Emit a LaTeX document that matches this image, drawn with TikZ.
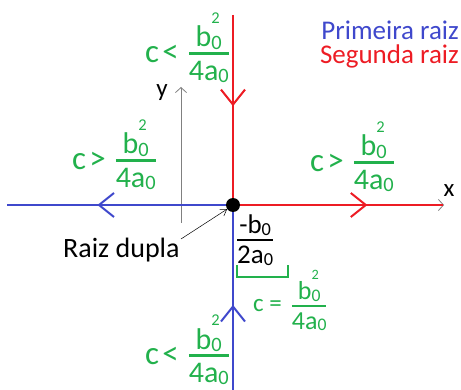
\documentclass[tikz,border=0pt]{standalone}
\usepackage{fontspec}
\setmainfont{Carlito}
\usepackage{graphicx}
\usepackage{tikz}
\usetikzlibrary{arrows.meta, decorations.markings}
\definecolor{grn}{RGB}{34,177,76}
\definecolor{blu}{RGB}{63,72,204}
\definecolor{rd}{RGB}{237,28,36}
\newcommand\lo[1]{\raisebox{-0.07em}{\scalebox{0.68}{#1}}}
\newcommand\hi[1]{\raisebox{0.78em}{\scalebox{0.55}{#1}}}
\newcommand\bsq{b\rlap{\hi{2}}\lo{0}}
\newcommand\frc[2]{{\setlength\arrayrulewidth{2.5pt}\renewcommand\arraystretch{0}%
  \begin{tabular}[t]{@{}c@{}}\rule[-0.18em]{0pt}{0.18em}#1\\\hline\rule{0pt}{0.84em}#2\end{tabular}}}
\newcommand\cfrac[2]{#1\hspace{0.3em}\raisebox{16pt}{\fontsize{30}{30}\selectfont\frc{\bsq}{4a\lo{0}}}}
\tikzset{
  glabel/.style={text=grn, font=\fontsize{33}{36}\selectfont, inner sep=0pt, anchor=base west},
  blabel/.style={font=\fontsize{28}{32}\selectfont, inner sep=0pt},
  rootline/.style={line width=2pt},
  chev/.style={postaction={decorate, decoration={markings,
      mark=at position #1 with {\arrow{Straight Barb[length=15pt, width=24pt, line width=2pt]}}}}},
  axisline/.style={gray, line width=0.8pt, -{Straight Barb[length=5pt, width=11pt]}},
}
\begin{document}
\begin{tikzpicture}[x=1pt, y=-1pt]
  \useasboundingbox (0,0) rectangle (461,390);
  \coordinate (ctr) at (233,205);
  \coordinate (redtop) at (233,15);
  \coordinate (redright) at (443,205);
  \coordinate (blueleft) at (7,205);
  \coordinate (bluebot) at (233,390);
  \coordinate (ybot) at (181,223);
  \coordinate (ytop) at (181,87);
  \coordinate (xleft) at (181,205);
  \coordinate (xright) at (444,205);

  % axes
  \draw[axisline] (ybot) -- (ytop);
  \draw[axisline] (xleft) -- (xright);
  \node[blabel, font=\fontsize{25}{28}\selectfont, anchor=base] at (162,97) (ylab) {y};
  \node[blabel, font=\fontsize{25}{28}\selectfont, anchor=base] at (449,197) (xlab) {x};

  % the two roots
  \draw[rootline, rd, chev=0.48] (redtop) -- (ctr);
  \draw[rootline, rd, chev=0.64] (ctr) -- (redright);
  \draw[rootline, blu, chev=0.60] (ctr) -- (blueleft);
  \draw[rootline, blu, chev=0.46] (bluebot) -- (ctr);
  \node[circle, fill=black, minimum size=14pt, inner sep=0pt] at (ctr) (root) {};

  % labels
  \node[glabel] at (145,63) (cTL) {\cfrac{c\hspace{0.1em}<}{}};
  \node[glabel] at (72,170) (cL) {\cfrac{c\hspace{0.1em}>}{}};
  \node[glabel] at (310,172) (cR) {\cfrac{c\hspace{0.1em}>}{}};
  \node[glabel] at (145,365) (cB) {\cfrac{c\hspace{0.1em}<}{}};
  \node[glabel, font=\fontsize{25}{28}\selectfont] at (253,312) (cEq)
    {c =\hspace{0.4em}\raisebox{12pt}{\fontsize{26}{26}\selectfont\frc{\bsq}{4a\lo{0}}}};
  \node[blabel, font=\fontsize{27}{30}\selectfont, anchor=north west] at (237,215) (vert)
    {\frc{-b\lo{0}}{2a\lo{0}}};
  \draw[grn, line width=1.5pt] (237,265) |- (288,277) -- (288,265);

  \node[blabel, anchor=base west] at (63,258) (dupla) {Raiz dupla};
  \draw[line width=0.5pt, -{Straight Barb[length=6pt, width=8pt]}] (181,239) -- (root.215);

  \node[blabel, font=\fontsize{27}{30}\selectfont, text=blu, anchor=base east] at (459,40) (first) {Primeira raiz};
  \node[blabel, font=\fontsize{27}{30}\selectfont, text=rd, anchor=base east] at (459,64) (second) {Segunda raiz};
\end{tikzpicture}
\end{document}
